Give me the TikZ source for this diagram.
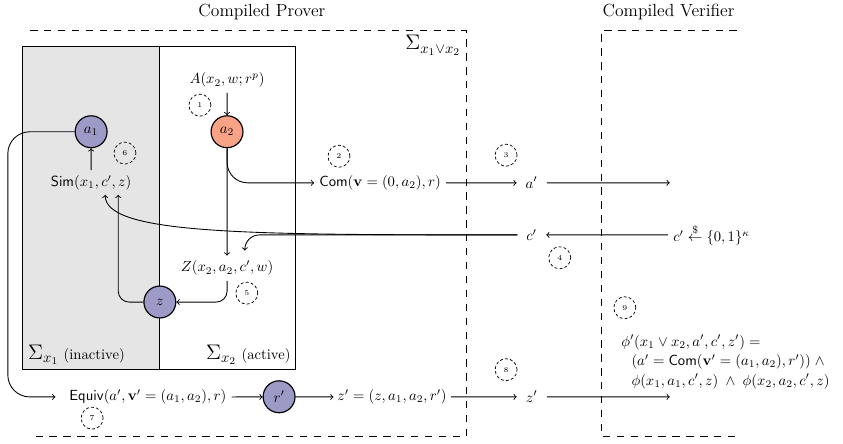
\documentclass[tikz,border=0pt]{standalone}
\usepackage{amsmath}
\definecolor{simpurple}{RGB}{158,154,200}
\definecolor{realred}{RGB}{249,163,134}

\begin{document}
\begin{tikzpicture}[scale=1.25,line width=0.6pt,
  party/.style={dash pattern=on 5pt off 4.5pt},
  val/.style={circle,draw,line width=0.8pt,minimum size=21.8pt,inner sep=0pt},
  num/.style={circle,draw,line width=0.5pt,dash pattern=on 2pt off 1.5pt,minimum size=15pt,inner sep=0pt,font=\tiny},
  msg/.style={inner sep=6pt}]
\useasboundingbox (0,0) rectangle (16.19,-8.51);

% parties
\node[font=\large] (prover) at (5.03,-0.23) {Compiled Prover};
\node[font=\large] (verifier) at (12.84,-0.23) {Compiled Verifier};
\draw[party] (0.58,-0.58) -- (8.95,-0.58) -- (8.95,-8.39) -- (0.58,-8.39);
\draw[party] (14.15,-0.58) -- (11.56,-0.58) -- (11.56,-8.39) -- (14.15,-8.39);
\node[anchor=north east,font=\Large] (sigor) at (8.95,-0.58) {$\Sigma_{x_1\vee x_2}$};

% the two sub-protocols
\draw[line width=0.8pt,fill=gray!20] (0.44,-0.90) rectangle (3.07,-7.10);
\draw[line width=0.8pt] (3.07,-0.90) rectangle (5.68,-7.10);
\node[anchor=south west] (sig1) at (0.44,-7.10) {{\Large$\Sigma_{x_1}$} (inactive)};
\node[anchor=south east] (sig2) at (5.68,-7.10) {{\Large$\Sigma_{x_2}$} (active)};

\node[val,fill=simpurple] (a1) at (1.75,-2.53) {$a_1$};
\node[val,fill=realred] (a2) at (4.36,-2.53) {$a_2$};
\node (A) at (4.36,-1.54) {$A(x_2,w;r^p)$};
\node (sim) at (1.75,-3.51) {$\mathsf{Sim}(x_1,c',z)$};
\node (Z) at (4.36,-5.15) {$Z(x_2,a_2,c',w)$};
\node[val,fill=simpurple] (z) at (3.07,-5.80) {$z$};
\coordinate (simc) at (2.02,-3.74);
\coordinate (simz) at (2.27,-3.74);
\coordinate (zin) at (4.70,-4.81);

% messages
\node (com) at (7.30,-3.51) {$\mathsf{Com}(\mathbf{v}=(0,a_2),r)$};
\node[msg] (ap) at (10.21,-3.51) {$a'$};
\node[msg] (cp) at (10.21,-4.51) {$c'$};
\node[anchor=west] (chal) at (12.83,-4.51) {$c'\stackrel{\$}{\leftarrow}\{0,1\}^\kappa$};
\node (equiv) at (2.84,-7.62) {$\mathsf{Equiv}(a',\mathbf{v}'=(a_1,a_2),r)$};
\node[val,fill=simpurple] (rp) at (5.36,-7.62) {$r'$};
\node[inner sep=2.5pt] (zt) at (7.53,-7.62) {$z'=(z,a_1,a_2,r')$};
\node[msg] (zp) at (10.21,-7.62) {$z'$};
\coordinate (va) at (12.86,-3.51);
\coordinate (vz) at (12.86,-7.62);
\coordinate (lft) at (0.15,-5.00);
\node[anchor=west,align=left] (check) at (11.83,-6.95)
  {$\phi'(x_1\vee x_2,a',c',z')=$\\[1.3pt]
   \hspace{7pt}$(a'=\mathsf{Com}(\mathbf{v}'=(a_1,a_2),r'))\;\wedge$\\[1.3pt]
   \hspace{7pt}$\phi(x_1,a_1,c',z)\;\wedge\;\phi(x_2,a_2,c',z)$};

% steps
\node[num] (n1) at (3.84,-2.02) {1};
\node[num] (n2) at (6.51,-3.00) {2};
\node[num] (n3) at (9.72,-2.98) {3};
\node[num] (n4) at (10.75,-4.95) {4};
\node[num] (n5) at (4.74,-5.63) {5};
\node[num] (n6) at (2.40,-2.94) {6};
\node[num] (n7) at (1.77,-8.03) {7};
\node[num] (n8) at (9.72,-7.10) {8};
\node[num] (n9) at (12.00,-5.91) {9};

\draw[->] (A) -- (a2);
\draw[->,rounded corners=14pt] (a2) |- (com);
\draw[->] (a2) -- (Z);
\draw[->] (com) -- (ap);
\draw[->] (ap) -- (va);
\draw[->] (chal) -- (cp);
\draw[->] (cp) .. controls (4.80,-4.51) and (2.02,-4.51) .. (simc);
\draw[->,rounded corners=10pt] (cp) -| (zin);
\draw[->,rounded corners=7.5pt] (Z) |- (z);
\draw[->,rounded corners=7.5pt] (z) -| (simz);
\draw[->] (sim) -- (a1);
\draw[->,rounded corners=15pt,shorten >=6pt] (a1) -| (lft) |- (equiv);
\draw[->] (equiv) -- (rp);
\draw[->] (rp) -- (zt);
\draw[->] (zt) -- (zp);
\draw[->] (zp) -- (vz);
\end{tikzpicture}
\end{document}
